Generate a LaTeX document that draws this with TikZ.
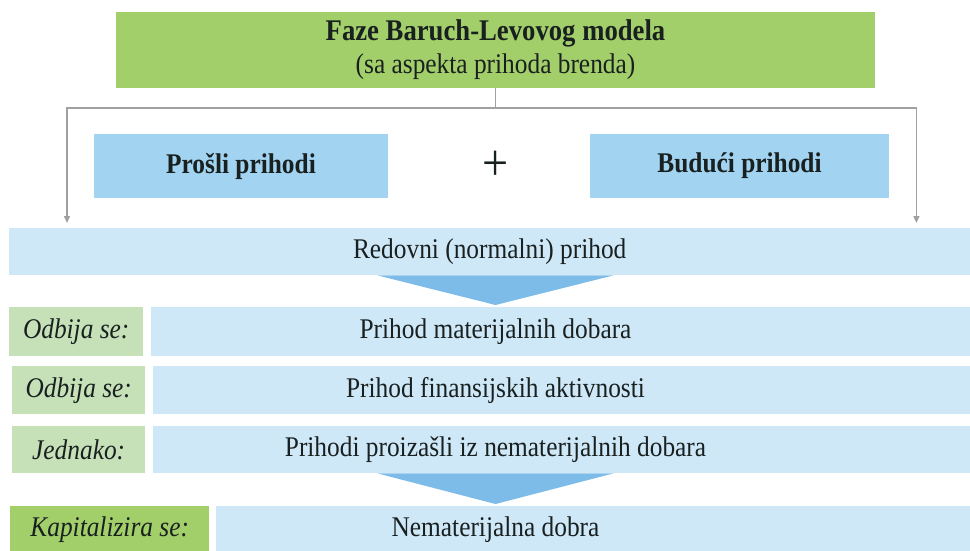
\documentclass[tikz,border=0pt]{standalone}
\usepackage{fontspec}
\setmainfont{Liberation Serif}[FakeStretch=0.89]
\usetikzlibrary{positioning,arrows.meta}
\definecolor{TitleGreen}{RGB}{163,207,106}
\definecolor{TagGreen}{RGB}{198,225,184}
\definecolor{IncomeBlue}{RGB}{162,211,240}
\definecolor{BandBlue}{RGB}{207,232,248}
\definecolor{WedgeBlue}{RGB}{125,188,232}
\definecolor{LinkGray}{RGB}{160,160,160}
\definecolor{Ink}{RGB}{25,32,32}

\begin{document}
\begin{tikzpicture}[x=1pt, y=-1pt, font=\fontsize{28.5}{33}\selectfont,
  every node/.style={align=center, inner sep=0pt, text=Ink},
  titlebox/.style={fill=TitleGreen},
  incomebox/.style={fill=IncomeBlue, minimum height=64pt},
  band/.style={fill=BandBlue, anchor=north west},
  tag/.style={fill=TagGreen, anchor=north west, font=\fontsize{28.5}{33}\selectfont\itshape},
  captag/.style={tag, fill=TitleGreen},
  wedge/.style={fill=WedgeBlue},
  link/.style={draw=LinkGray, line width=1.5pt},
  tip/.style={-{Triangle[length=7pt,width=6pt]}}]
  \useasboundingbox (0,0) rectangle (970,550);
  % header and the two income kinds
  \node[titlebox, minimum width=759pt, minimum height=76pt] (title) at (495.5,50)
       {\fontsize{30}{33}\selectfont\bfseries Faze Baruch-Levovog modela\\(sa aspekta prihoda brenda)};
  \node[incomebox, minimum width=294pt] (prosli) at (241,166) {\bfseries Prošli prihodi};
  \node[incomebox, minimum width=299pt] (buduci) at (739.5,166) {\bfseries Budući prihodi};
  \node[font=\fontsize{52}{52}\selectfont] (plus) at (title.south |- prosli) {+};
  \node[band, minimum width=961pt, minimum height=47pt] (redovni) at (9,228)
       {Redovni (normalni) prihod};
  \coordinate (fork) at (title.south |- 0,108);
  \draw[link] (title.south) -- (fork);
  \draw[link, tip] (fork) -| ([xshift=58pt, yshift=5pt]redovni.north west);
  \draw[link, tip] (fork) -| ([xshift=-54pt, yshift=5pt]redovni.north east);
  % deductions
  \fill[wedge] (redovni.south -| title.south) ++(-118,0) -- ++(236,0)
       -- ([yshift=2pt]title.south |- 0,307) -- cycle;
  \node[tag, minimum width=134pt, minimum height=49pt] (odb1) at (9,307) {Odbija se:};
  \node[band, minimum width=819pt, minimum height=49pt] (mat) at (151,307) {};
  \node (matTxt) at (title.south |- mat) {Prihod materijalnih dobara};
  \node[tag, minimum width=133pt, minimum height=48pt] (odb2) at (12,366) {Odbija se:};
  \node[band, minimum width=817pt, minimum height=48pt] (fin) at (153,366) {};
  \node (finTxt) at (title.south |- fin) {Prihod finansijskih aktivnosti};
  \node[tag, minimum width=133pt, minimum height=47pt] (jed) at (12,426) {Jednako:};
  \node[band, minimum width=817pt, minimum height=47pt] (nem) at (153,426) {};
  \node (nemTxt) at (title.south |- nem) {Prihodi proizašli iz nematerijalnih dobara};
  % capitalisation
  \fill[wedge] (nem.south -| title.south) ++(-118,0) -- ++(236,0)
       -- ([yshift=2pt]title.south |- 0,506) -- cycle;
  \node[captag, minimum width=199pt, minimum height=46pt] (kap) at (10,506) {Kapitalizira se:};
  \node[band, minimum width=754pt, minimum height=46pt] (dobra) at (216,506) {};
  \node (dobraTxt) at (title.south |- dobra) {Nematerijalna dobra};
\end{tikzpicture}
\end{document}
